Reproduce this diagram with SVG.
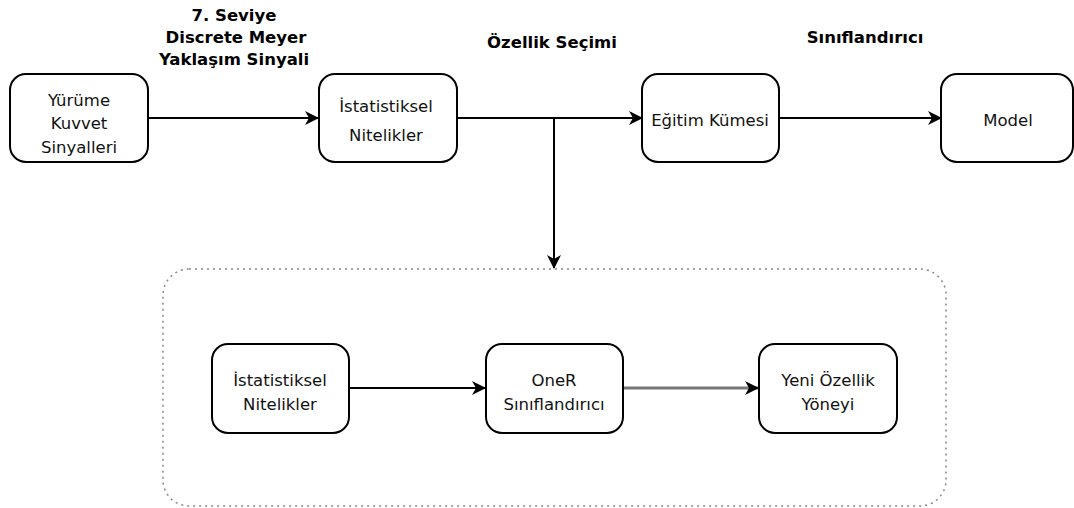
<svg xmlns="http://www.w3.org/2000/svg" width="1074" height="508" viewBox="0 0 1074 508">
<style>
.node{fill:#fff;stroke:#000;stroke-width:2}
.t{font-family:"DejaVu Sans",sans-serif;font-size:16.5px;fill:#111;text-anchor:middle;dominant-baseline:central}
.h{font-family:"DejaVu Sans",sans-serif;font-weight:bold;font-size:16.5px;fill:#000;text-anchor:middle;dominant-baseline:central}
.c{fill:none;stroke:#000;stroke-width:2}
</style>
<defs>
<marker id="ah" viewBox="0 0 14 14" refX="13" refY="7" markerWidth="14" markerHeight="14" markerUnits="userSpaceOnUse" orient="auto">
<path d="M0,0 L14,7 L0,14 L4,7 Z" fill="#000"/>
</marker>
</defs>
<rect width="1074" height="508" fill="#fff"/>
<g id="labels">
<text class="h" x="234" y="15">7. Seviye</text>
<text class="h" x="236" y="37">Discrete Meyer</text>
<text class="h" x="234" y="59">Yaklaşım Sinyali</text>
<text class="h" x="552" y="42">Özellik Seçimi</text>
<text class="h" x="865" y="37">Sınıflandırıcı</text>
</g>
<g id="container">
<rect x="163" y="269" width="783" height="237" rx="26" fill="none" stroke="#888" stroke-width="1.5" stroke-dasharray="2,4"/>
</g>
<g id="connectors">
<line class="c" x1="148" y1="118" x2="318" y2="118" marker-end="url(#ah)"/>
<line class="c" x1="457" y1="118" x2="642" y2="118" marker-end="url(#ah)"/>
<line class="c" x1="554" y1="118" x2="554" y2="268" marker-end="url(#ah)"/>
<line class="c" x1="779" y1="118" x2="941" y2="118" marker-end="url(#ah)"/>
<line class="c" x1="349" y1="388" x2="485" y2="388" marker-end="url(#ah)"/>
<line x1="623" y1="388" x2="758" y2="388" stroke="#777" stroke-width="3" marker-end="url(#ah)"/>
</g>
<g id="n1">
<rect class="node" x="10" y="74" width="138" height="88" rx="16"/>
<text class="t" x="79" y="100">Yürüme</text>
<text class="t" x="79" y="123">Kuvvet</text>
<text class="t" x="79" y="147">Sinyalleri</text>
</g>
<g id="n2">
<rect class="node" x="319" y="74" width="138" height="88" rx="16"/>
<text class="t" x="386" y="106">İstatistiksel</text>
<text class="t" x="386" y="135">Nitelikler</text>
</g>
<g id="n3">
<rect class="node" x="642" y="74" width="137" height="88" rx="16"/>
<text class="t" x="710" y="120">Eğitim Kümesi</text>
</g>
<g id="n4">
<rect class="node" x="941" y="74" width="132" height="88" rx="16"/>
<text class="t" x="1008" y="120">Model</text>
</g>
<g id="n5">
<rect class="node" x="212" y="344" width="137" height="89" rx="16"/>
<text class="t" x="280" y="380">İstatistiksel</text>
<text class="t" x="280" y="404">Nitelikler</text>
</g>
<g id="n6">
<rect class="node" x="486" y="344" width="137" height="89" rx="16"/>
<text class="t" x="554" y="380">OneR</text>
<text class="t" x="554" y="404">Sınıflandırıcı</text>
</g>
<g id="n7">
<rect class="node" x="759" y="344" width="138" height="89" rx="16"/>
<text class="t" x="828" y="380">Yeni Özellik</text>
<text class="t" x="828" y="404">Yöneyi</text>
</g>
</svg>
